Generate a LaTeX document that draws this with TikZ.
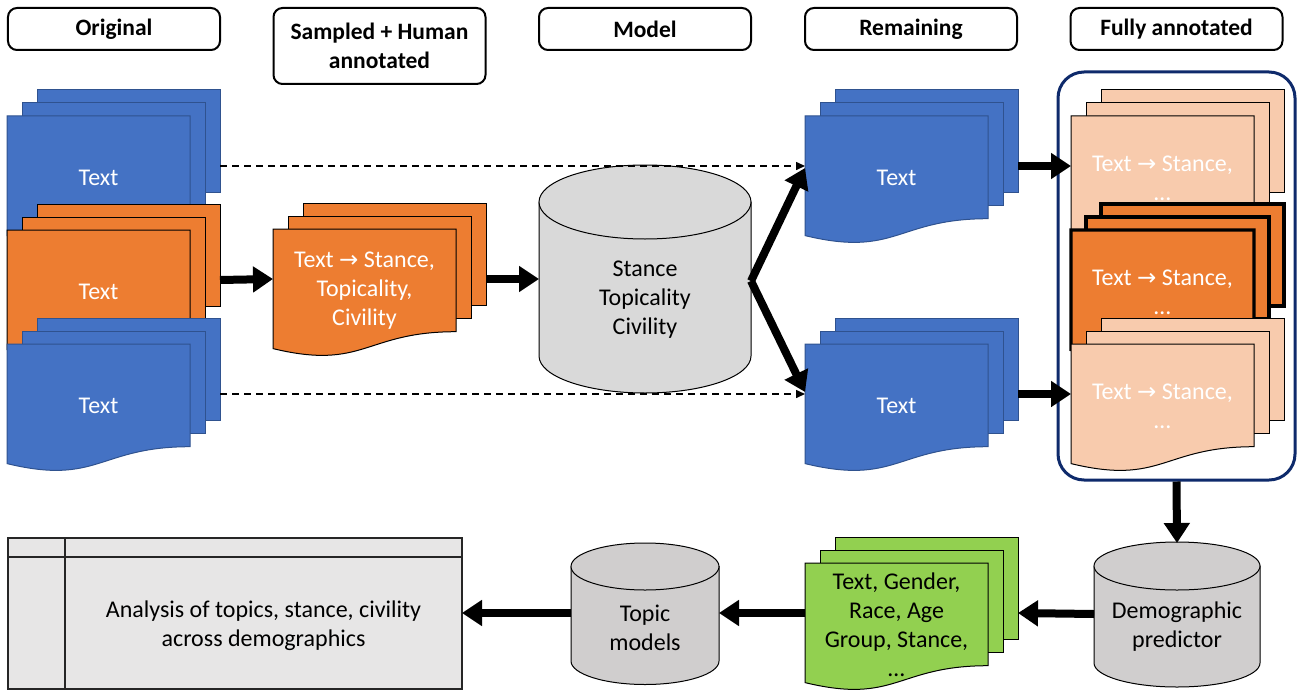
\documentclass[tikz,border=0pt]{standalone}
\usepackage{fontspec}
\setmainfont{Carlito}
\newfontfamily\arrowfont{DejaVu Sans}
\usetikzlibrary{arrows.meta}
\definecolor{docblue}{HTML}{4472C4}
\definecolor{docblueline}{HTML}{2F528F}
\definecolor{docorange}{HTML}{ED7D31}
\definecolor{doclight}{HTML}{F8CBAD}
\definecolor{docgreen}{HTML}{92D050}
\definecolor{cylgray}{HTML}{D9D9D9}
\definecolor{cylgraytwo}{HTML}{D0CECE}
\definecolor{analgray}{HTML}{E7E6E6}
\definecolor{navy}{HTML}{0E2A6B}
\newcommand\ar{{\arrowfont\fontsize{23bp}{29bp}\selectfont →}}
% #1 name, #2 x, #3 y of front page top-left, #4 page style, #5 text, #6 text style
\newcommand\docstack[6]{%
  \path[#4] (#2+30,#3-26) rectangle (#2+213,#3+76);
  \path[#4] (#2+15,#3-13) rectangle (#2+198,#3+89);
  \path[#4] (#2,#3) -- (#2+183,#3) -- (#2+183,#3+102.7)
     .. controls (#2+91.5,#3+102.7) and (#2+91.5,#3+141.7) .. (#2,#3+119.6) -- cycle;
  \node[#6] (#1) at (#2+91.5,#3+62) {#5};
  \coordinate (#1-r) at (#2+213,#3+50);
  \coordinate (#1-l) at (#2,#3+50);
}
% #1 name, #2 cx, #3 top ellipse cy, #4 bottom ellipse cy, #5 rx, #6 ry, #7 fill, #8 text, #9 text y
\newcommand\cyl[9]{%
  \path[fill=#7,draw=black,line width=1bp] (#2-#5,#3) -- (#2-#5,#4)
     .. controls (#2-#5,#4+0.5523*#6) and (#2-0.5523*#5,#4+#6) .. (#2,#4+#6)
     .. controls (#2+0.5523*#5,#4+#6) and (#2+#5,#4+0.5523*#6) .. (#2+#5,#4)
     -- (#2+#5,#3) -- cycle;
  \path[fill=#7,draw=black,line width=1bp] (#2,#3) ellipse [x radius=#5bp, y radius=#6bp];
  \node[bodytext] (#1) at (#2,#9) {#8};
}
\begin{document}
\begin{tikzpicture}[x=1bp,y=-1bp,
  hdr/.style={draw=black,line width=2bp,rounded corners=9bp,fill=white,align=center,
    minimum width=212bp,font=\bfseries\fontsize{23.5bp}{29bp}\selectfont,inner sep=0pt},
  bodytext/.style={align=center,font=\fontsize{24bp}{29bp}\selectfont,inner sep=0pt},
  wtext/.style={bodytext,text=white},
  btext/.style={bodytext,text=black},
  bluepage/.style={fill=docblue,draw=docblueline,line width=1bp},
  orangepage/.style={fill=docorange,draw=black,line width=1bp},
  lightpage/.style={fill=doclight,draw=black,line width=1bp},
  boldpage/.style={fill=docorange,draw=black,line width=3.2bp},
  greenpage/.style={fill=docgreen,draw=black,line width=1bp},
  bigarrow/.style={line width=8bp,-{Triangle[length=20bp,width=25bp]}},
  dasharrow/.style={line width=1.5bp,dash pattern=on 7bp off 5bp,-{Triangle[length=9bp,width=8bp]}}
]
\useasboundingbox (0,0) rectangle (1299,690);
% headers
\node[hdr,minimum height=42bp] (h1) at (114,29) {Original};
\node[hdr,minimum height=76bp] (h2) at (379.5,46) {Sampled + Human\\annotated};
\node[hdr,minimum height=42bp] (h3) at (645,29) {Model};
\node[hdr,minimum height=42bp] (h4) at (911,29) {Remaining};
\node[hdr,minimum height=42bp] (h5) at (1176.5,29) {Fully annotated};
% container
\node[draw=navy,line width=3bp,rounded corners=26bp,minimum width=237bp,minimum height=408bp,inner sep=0pt] (full) at (1176.5,276) {};
% left stacks
\docstack{o1}{7}{116}{bluepage}{Text}{wtext}
\docstack{o2}{7}{230}{orangepage}{Text}{wtext}
\docstack{o3}{7}{344}{bluepage}{Text}{wtext}
% sampled
\docstack{s1}{273}{229}{orangepage}{Text \ar{} Stance,\\Topicality,\\Civility}{wtext}
% model
\cyl{model}{645}{202}{356}{106}{37}{cylgray}{Stance\\Topicality\\Civility}{300}
\coordinate (model-r) at (751,281);
\coordinate (model-l) at (539,279);
% remaining
\docstack{r1}{805}{116}{bluepage}{Text}{wtext}
\docstack{r2}{805}{344}{bluepage}{Text}{wtext}
% dashed
\coordinate (r1tip) at (805,166);
\coordinate (r2tip) at (805,394);
\draw[dasharrow] (o1-r) -- (r1tip);
\draw[dasharrow] (o3-r) -- (r2tip);
% fully annotated
\docstack{f1}{1071}{116}{lightpage}{Text \ar{} Stance,\\…}{wtext}
\docstack{f2}{1071}{230}{boldpage}{Text \ar{} Stance,\\…}{wtext}
\docstack{f3}{1071}{344}{lightpage}{Text \ar{} Stance,\\…}{wtext}
% bottom row
\cyl{demo}{1177}{566}{663}{83}{24}{cylgraytwo}{Demographic\\predictor}{627}
\coordinate (demo-l) at (1094,614);
\coordinate (demo-t) at (1177,543);
\docstack{g1}{805}{563}{greenpage}{Text, Gender,\\Race, Age\\Group, Stance,\\…}{btext}
\cyl{topic}{645}{566.5}{661}{74}{23.5}{cylgraytwo}{Topic\\models}{627.5}
\coordinate (topic-l) at (571,613);
\coordinate (topic-r) at (719,613);
\draw[fill=analgray,draw=black!85,line width=1.2bp] (8,538) rectangle (462,689);
\draw[draw=black!85,line width=1.2bp] (8,557) -- (462,557);
\draw[draw=black!85,line width=1.2bp] (65,538) -- (65,689);
\node[btext] (anal) at (263.5,626) {Analysis of topics, stance, civility\\across demographics};
\coordinate (anal-r) at (462,613);
\coordinate (up-tip) at (805,168);
\coordinate (down-tip) at (805,392);
% arrows
\draw[bigarrow] (o2-r) -- (s1-l);
\draw[bigarrow] (s1-r) -- (model-l);
\draw[bigarrow] (model-r) -- (up-tip);
\draw[bigarrow] (model-r) -- (down-tip);
\draw[bigarrow] (r1-r) -- (f1-l);
\draw[bigarrow] (r2-r) -- (f3-l);
\draw[bigarrow] (full.south) -- (demo-t);
\draw[bigarrow] (demo-l) -- (g1-r);
\draw[bigarrow] (g1-l) -- (topic-r);
\draw[bigarrow] (topic-l) -- (anal-r);
\end{tikzpicture}
\end{document}
